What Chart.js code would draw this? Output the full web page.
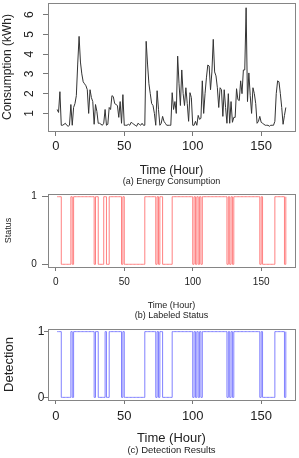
<!DOCTYPE html>
<html>
<head>
<meta charset="utf-8">
<script src="https://cdn.jsdelivr.net/npm/chart.js@4.4.1/dist/chart.umd.min.js"></script>
<style>
    body { margin: 0; background: #fff; }
    canvas { display: block; }
</style>
</head>
<body>
<canvas id="consumptionChart" width="299" height="188"></canvas>
<canvas id="statusChart" width="299" height="136"></canvas>
<canvas id="detectionChart" width="299" height="134"></canvas>
<script>
// часы 1..168
const hours = [
    1, 2, 3, 4, 5, 6, 7, 8, 9, 10, 11, 12, 13, 14, 15, 16, 17, 18, 19, 20,
    21, 22, 23, 24, 25, 26, 27, 28, 29, 30, 31, 32, 33, 34, 35, 36, 37, 38, 39, 40,
    41, 42, 43, 44, 45, 46, 47, 48, 49, 50, 51, 52, 53, 54, 55, 56, 57, 58, 59, 60,
    61, 62, 63, 64, 65, 66, 67, 68, 69, 70, 71, 72, 73, 74, 75, 76, 77, 78, 79, 80,
    81, 82, 83, 84, 85, 86, 87, 88, 89, 90, 91, 92, 93, 94, 95, 96, 97, 98, 99, 100,
    101, 102, 103, 104, 105, 106, 107, 108, 109, 110, 111, 112, 113, 114, 115, 116, 117, 118, 119, 120,
    121, 122, 123, 124, 125, 126, 127, 128, 129, 130, 131, 132, 133, 134, 135, 136, 137, 138, 139, 140,
    141, 142, 143, 144, 145, 146, 147, 148, 149, 150, 151, 152, 153, 154, 155, 156, 157, 158, 159, 160,
    161, 162, 163, 164, 165, 166, 167, 168
];

const consumption = [
    1.2, 1.05, 2.1, 0.4, 0.4, 0.45, 0.5, 0.4, 0.35, 0.4,
    1.45, 0.4, 1.3, 1.5, 1.9, 3.5, 4.9, 3.6, 3.0, 2.6,
    2.5, 2.4, 2.2, 1.0, 2.2, 1.8, 1.6, 0.45, 1.45, 1.1,
    0.5, 0.5, 0.45, 0.4, 0.5, 1.2, 0.4, 0.45, 1.3, 1.2,
    1.9, 1.85, 1.5, 1.45, 1.4, 0.8, 1.6, 0.5, 1.95, 0.4,
    0.4, 0.4, 0.45, 0.4, 0.55, 0.5, 0.45, 0.4, 0.35, 0.5,
    0.45, 0.4, 0.5, 0.4, 0.4, 4.65, 3.5, 2.5, 2.0, 1.5,
    1.4, 1.0, 0.4, 2.15, 1.2, 0.4, 0.5, 0.85, 0.6, 0.5,
    0.4, 0.4, 0.4, 0.4, 2.05, 1.2, 1.6, 1.0, 3.9, 2.5,
    1.4, 3.2, 2.0, 1.4, 2.3, 1.5, 0.6, 2.05, 1.8, 0.4,
    0.4, 0.6, 0.4, 0.9, 0.7, 0.75, 2.65, 1.0, 2.0, 2.8,
    3.45, 3.4, 2.2, 3.1, 4.75, 3.1, 2.9, 2.3, 1.3, 2.3,
    2.2, 0.85, 2.2, 1.3, 0.5, 2.0, 0.5, 1.6, 0.55, 0.8,
    0.8, 2.25, 1.7, 1.65, 2.65, 2.0, 3.2, 3.2, 6.35, 1.6,
    3.05, 1.9, 1.0, 2.3, 2.0, 1.5, 0.5, 0.6, 0.85, 0.55,
    0.5, 0.45, 0.4, 0.4, 0.4, 0.35, 0.4, 0.4, 0.4, 0.6,
    2.0, 2.65, 2.6, 2.0, 1.3, 0.45, 0.9, 1.3
];

const labeledStatus = [
    1, 1, 1, 0, 0, 0, 0, 0, 0, 0,
    1, 0, 1, 1, 1, 1, 1, 1, 1, 1,
    1, 1, 1, 1, 1, 1, 1, 0, 1, 1,
    0, 0, 0, 0, 1, 1, 0, 0, 1, 1,
    1, 1, 1, 1, 1, 1, 1, 0, 1, 0,
    0, 0, 0, 0, 0, 0, 0, 0, 0, 0,
    0, 0, 0, 0, 1, 1, 1, 1, 1, 1,
    1, 1, 0, 1, 0, 1, 1, 0, 0, 0,
    0, 0, 0, 0, 1, 1, 1, 1, 1, 1,
    1, 1, 1, 1, 1, 1, 1, 1, 1, 0,
    1, 0, 1, 0, 1, 0, 1, 1, 1, 1,
    1, 1, 1, 1, 1, 1, 1, 1, 1, 1,
    1, 1, 1, 1, 0, 1, 0, 1, 0, 1,
    1, 1, 1, 1, 1, 1, 1, 1, 1, 1,
    1, 1, 1, 1, 1, 1, 1, 1, 0, 1,
    0, 0, 0, 0, 0, 0, 0, 0, 0, 1,
    1, 1, 1, 1, 1, 1, 0, 1
];

const detection = [
    1, 1, 1, 0, 0, 0, 0, 0, 0, 0,
    1, 0, 1, 1, 1, 1, 1, 1, 1, 1,
    1, 1, 1, 1, 1, 1, 1, 0, 1, 1,
    0, 0, 0, 0, 0, 1, 0, 0, 1, 1,
    1, 1, 1, 1, 1, 1, 1, 0, 1, 0,
    0, 0, 0, 0, 0, 0, 0, 0, 0, 0,
    0, 0, 0, 0, 1, 1, 1, 1, 1, 1,
    1, 1, 0, 1, 0, 1, 1, 0, 0, 0,
    0, 0, 0, 0, 1, 1, 1, 1, 1, 1,
    1, 1, 1, 1, 1, 1, 1, 1, 1, 0,
    1, 0, 1, 0, 1, 0, 1, 1, 1, 1,
    1, 1, 1, 1, 1, 1, 1, 1, 1, 1,
    1, 1, 1, 1, 0, 1, 0, 1, 0, 1,
    1, 1, 1, 1, 1, 1, 1, 1, 1, 1,
    1, 1, 1, 1, 1, 1, 1, 1, 0, 1,
    0, 0, 0, 0, 0, 0, 0, 0, 0, 1,
    1, 1, 1, 1, 1, 1, 0, 1
];

const xTicks = [0, 50, 100, 150];
const consumptionTicks = [1, 2, 3, 4, 5, 6];
const statusTicks = [0, 1];

const FONT = '"Liberation Sans", Arial, sans-serif';

// рамка, подписи осей и подпись панели в стиле R
const rStylePlugin = {
    id: 'rStyle',
    afterDraw(chart, args, opts) {
        const { ctx, chartArea: a, scales } = chart;
        ctx.save();
        ctx.strokeStyle = '#858585';
        ctx.lineWidth = 1;
        ctx.strokeRect(Math.round(a.left) + 0.5, Math.round(a.top) + 0.5,
            Math.round(a.right - a.left), Math.round(a.bottom - a.top));

        ctx.fillStyle = '#222';
        ctx.textAlign = 'center';
        ctx.textBaseline = 'middle';

        // подписи делений по Y
        ctx.font = `${opts.yTickSize}px ${FONT}`;
        scales.y.ticks.forEach(t => {
            const y = scales.y.getPixelForValue(t.value);
            ctx.save();
            ctx.translate(opts.yTickX, y);
            if (opts.rotateY) ctx.rotate(-Math.PI / 2);
            ctx.fillText(String(t.value), 0, 0);
            ctx.restore();
        });

        // заголовок оси Y
        ctx.save();
        ctx.font = `${opts.yTitleSize}px ${FONT}`;
        ctx.translate(opts.yTitleX, (a.top + a.bottom) / 2);
        ctx.rotate(-Math.PI / 2);
        ctx.fillText(opts.yTitle, 0, 0);
        ctx.restore();

        // заголовок оси X и подпись
        const cx = (a.left + a.right) / 2;
        ctx.font = `${opts.xTitleSize}px ${FONT}`;
        ctx.fillText('Time (Hour)', cx, opts.xTitleY);
        ctx.font = `${opts.captionSize}px ${FONT}`;
        ctx.fillText(opts.caption, cx, opts.captionY);
        ctx.restore();
    }
};

function makeChart(id, values, color, cfg) {
    const ctx = document.getElementById(id);
    const points = hours.map((h, i) => ({ x: h, y: values[i] }));

    return new Chart(ctx, {
        type: 'line',
        data: {
            datasets: [{
                data: points,
                borderColor: color,
                borderWidth: 1,
                pointRadius: 0,
                stepped: cfg.stepped ? 'before' : false,
                tension: 0
            }]
        },
        options: {
            responsive: false,
            animation: false,
            events: [],
            layout: { padding: { top: cfg.top, right: 4, left: 0, bottom: 0 } },
            plugins: {
                legend: { display: false },
                tooltip: { enabled: false },
                rStyle: cfg.text
            },
            scales: {
                x: {
                    type: 'linear',
                    min: -5.7,
                    max: 174.7,
                    afterBuildTicks: scale => { scale.ticks = xTicks.map(v => ({ value: v })); },
                    afterFit: scale => { scale.height = cfg.xHeight; },
                    grid: { drawOnChartArea: false, drawTicks: true, tickLength: cfg.xTickLen, color: '#777' },
                    border: { display: false },
                    ticks: {
                        autoSkip: false,
                        maxRotation: 0,
                        padding: cfg.xTickPad,
                        color: '#222',
                        font: { family: FONT, size: cfg.xTickSize }
                    }
                },
                y: {
                    type: 'linear',
                    min: cfg.yMin,
                    max: cfg.yMax,
                    afterBuildTicks: scale => { scale.ticks = cfg.yTicks.map(v => ({ value: v })); },
                    afterFit: scale => { scale.width = 48; },
                    grid: { drawOnChartArea: false, drawTicks: true, tickLength: cfg.yTickLen, color: '#777' },
                    border: { display: false },
                    ticks: { display: false }
                }
            }
        },
        plugins: [rStylePlugin]
    });
}

makeChart('consumptionChart', consumption, '#333333', {
    top: 3, xHeight: 57, xTickLen: 5, xTickPad: 3, xTickSize: 13, yTickLen: 5,
    yMin: 0.11, yMax: 6.59, yTicks: consumptionTicks,
    text: {
        yTickX: 30, yTickSize: 12, rotateY: true,
        yTitle: 'Consumption (kWh)', yTitleX: 8, yTitleSize: 12,
        xTitleSize: 12, xTitleY: 170.5,
        caption: '(a) Energy Consumption', captionSize: 9, captionY: 182
    }
});

makeChart('statusChart', labeledStatus, '#ff8080', {
    stepped: true,
    top: 6, xHeight: 57, xTickLen: 4, xTickPad: 5, xTickSize: 10, yTickLen: 6,
    yMin: -0.04, yMax: 1.04, yTicks: statusTicks,
    text: {
        yTickX: 34, yTickSize: 10, rotateY: false,
        yTitle: 'Status', yTitleX: 9, yTitleSize: 9,
        xTitleSize: 9, xTitleY: 117.5,
        caption: '(b) Labeled Status', captionSize: 9, captionY: 128
    }
});

makeChart('detectionChart', detection, '#8080ff', {
    stepped: true,
    top: 5, xHeight: 58, xTickLen: 4, xTickPad: 5, xTickSize: 13, yTickLen: 4,
    yMin: -0.04, yMax: 1.04, yTicks: statusTicks,
    text: {
        yTickX: 41, yTickSize: 12, rotateY: false,
        yTitle: 'Detection', yTitleX: 9, yTitleSize: 13,
        xTitleSize: 13, xTitleY: 114,
        caption: '(c) Detection Results', captionSize: 9.5, captionY: 126
    }
});
</script>
</body>
</html>
